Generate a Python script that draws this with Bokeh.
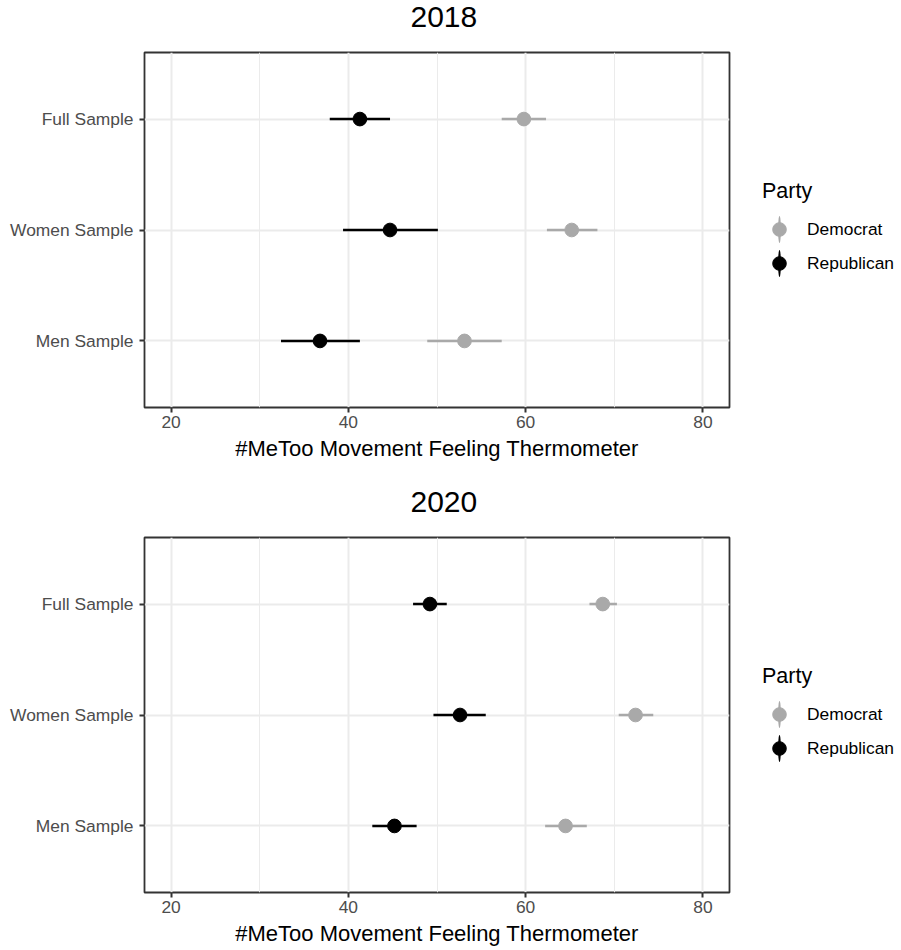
from bokeh.plotting import figure
from bokeh.models import FactorRange, FixedTicker, Legend, LegendItem, Range1d, Title
from bokeh.layouts import column
from bokeh.embed import file_html
from bokeh.resources import INLINE

# ---- data ----
samples = ["Full Sample", "Women Sample", "Men Sample"]
parties = ["Democrat", "Republican"]
years = ["2018", "2020"]

dem_2018_est = [59.8, 65.2, 53.1]
dem_2018_lo = [57.3, 62.4, 48.9]
dem_2018_hi = [62.3, 68.1, 57.3]
rep_2018_est = [41.3, 44.7, 36.8]
rep_2018_lo = [37.9, 39.4, 32.4]
rep_2018_hi = [44.7, 50.1, 41.3]

dem_2020_est = [68.7, 72.4, 64.5]
dem_2020_lo = [67.2, 70.5, 62.2]
dem_2020_hi = [70.3, 74.4, 66.9]
rep_2020_est = [49.2, 52.6, 45.2]
rep_2020_lo = [47.3, 49.6, 42.7]
rep_2020_hi = [51.1, 55.5, 47.7]

x_ticks = [20, 40, 60, 80]
x_minor_ticks = [30, 50, 70]
x_label = "#MeToo Movement Feeling Thermometer"
legend_title = "Party"

party_colors = {"Democrat": "#A9A9A9", "Republican": "#000000"}
FONT = "Liberation Sans"


def make_panel(title, series, top_border, bottom_border):
    p = figure(
        y_range=FactorRange(factors=list(reversed(samples)), range_padding=0.1,
                            range_padding_units="absolute"),
        x_range=Range1d(17, 83),
        frame_width=585, frame_height=355,
        min_border_left=144, min_border_right=172,
        min_border_top=top_border, min_border_bottom=bottom_border,
        output_backend="svg", toolbar_location=None,
    )
    p.background_fill_color = "white"
    p.border_fill_color = "white"
    p.outline_line_color = "#333333"
    p.outline_line_width = 1.8

    xax = p.below[0]
    yax = p.left[0]

    # built-in title unused; explicit titles stacked above the frame:
    # a blank spacer next to the frame, then the panel title
    p.title.text = ""
    spacer = Title(text=" ", text_font=FONT, text_font_size="1px", standoff=20)
    p.add_layout(spacer, "above")
    ttl = Title(text=title, align="left", offset=266, vertical_align="top", standoff=2,
                text_font=FONT, text_font_size="30px", text_font_style="normal",
                text_color="black")
    p.add_layout(ttl, "above")

    for ax in (xax, yax):
        ax.axis_line_color = None
        ax.major_tick_line_color = "#333333"
        ax.major_tick_line_width = 2
        ax.major_tick_out = 5
        ax.major_tick_in = 0
        ax.minor_tick_line_color = None
        ax.major_label_text_font = FONT
        ax.major_label_text_font_size = "17.4px"
        ax.major_label_text_color = "#4D4D4D"

    xax.ticker = FixedTicker(ticks=x_ticks, minor_ticks=x_minor_ticks)
    xax.major_label_standoff = 3
    xax.axis_label = x_label
    xax.axis_label_text_font = FONT
    xax.axis_label_text_font_size = "22px"
    xax.axis_label_text_font_style = "normal"
    xax.axis_label_text_color = "black"
    xax.axis_label_standoff = 5
    yax.major_label_standoff = 6

    p.xgrid.grid_line_color = "#EBEBEB"
    p.xgrid.grid_line_width = 2
    p.xgrid.minor_grid_line_color = "#EBEBEB"
    p.xgrid.minor_grid_line_width = 1
    p.ygrid.grid_line_color = "#EBEBEB"
    p.ygrid.grid_line_width = 2

    items = []
    for party in parties:
        est, lo, hi = series[party]
        c = party_colors[party]
        p.segment(x0=lo, y0=samples, x1=hi, y1=samples, line_color=c, line_width=2.5)
        # thin vertical ellipse hidden under each point; it gives the legend key its vertical bar
        key_line = p.ellipse(x=est, y=samples, width=1, height=9.5,
                             width_units="screen", height_units="screen",
                             fill_color=c, line_color=None)
        pts = p.scatter(x=est, y=samples, size=13.7, fill_color=c, line_color=c)
        items.append(LegendItem(label=party, renderers=[key_line, pts]))

    legend = Legend(
        items=items, title=legend_title, location=(33, 127),
        glyph_width=34, glyph_height=34, label_height=34,
        label_standoff=11, spacing=0, padding=0, margin=0,
        border_line_color=None, background_fill_alpha=0,
        title_text_font=FONT, title_text_font_size="21.5px",
        title_text_font_style="normal", title_text_color="black",
        title_standoff=8,
        label_text_font=FONT, label_text_font_size="17.4px",
        label_text_color="black",
    )
    p.add_layout(legend, "right")
    return p


p1 = make_panel(years[0], {
    "Democrat": (dem_2018_est, dem_2018_lo, dem_2018_hi),
    "Republican": (rep_2018_est, rep_2018_lo, rep_2018_hi),
}, 52, 78)
p2 = make_panel(years[1], {
    "Democrat": (dem_2020_est, dem_2020_lo, dem_2020_hi),
    "Republican": (rep_2020_est, rep_2020_lo, rep_2020_hi),
}, 52, 10)

layout = column(p1, p2, spacing=0)
open("out.html", "w").write(file_html(layout, INLINE))
